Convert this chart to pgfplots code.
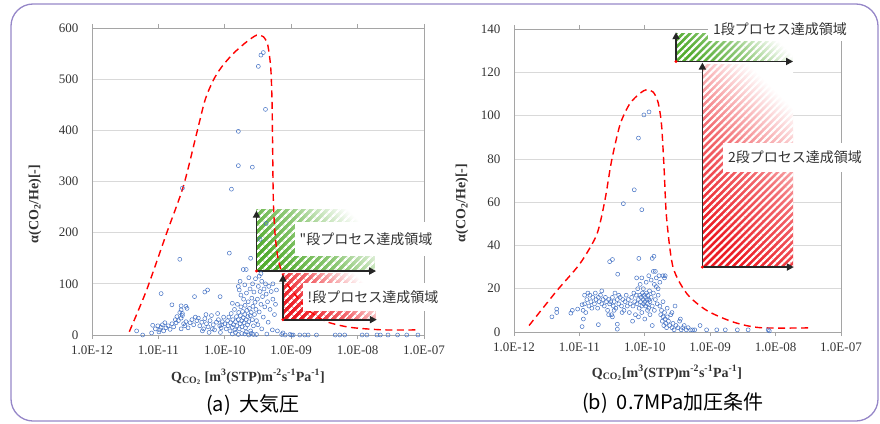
\documentclass[border=0pt]{standalone}
\usepackage{fontspec}
\setmainfont{Liberation Serif}
\newfontfamily\jp{Noto Sans CJK JP}
\usepackage{pgfplots}
\pgfplotsset{compat=1.18}
\usetikzlibrary{arrows.meta,patterns.meta}

\definecolor{ptblue}{RGB}{68,114,196}
\definecolor{hgreen}{RGB}{84,172,48}
\definecolor{hred}{RGB}{236,28,36}
\definecolor{framec}{RGB}{150,135,200}
\definecolor{axgray}{RGB}{165,165,165}

\pgfplotsset{
  panel/.style={
    scale only axis, anchor=south west, clip=false,
    xmin=1e-12, xmax=1e-7,
    xtick={1e-12,1e-11,1e-10,1e-9,1e-8,1e-7},
    xticklabels={\textrm{1.0E-12},\textrm{1.0E-11},\textrm{1.0E-10},\textrm{1.0E-09},\textrm{1.0E-08},\textrm{1.0E-07}},
    xminorticks=false,
    ymajorgrids, grid style={draw=gray!30, line width=0.7bp},
    axis line style={draw=axgray, line width=0.8bp},
    tick align=outside, major tick length=4bp,
    xtick style={draw=axgray, line width=0.8bp},
    ytick style={draw=none},
    ticklabel style={font=\fontsize{13bp}{15bp}\selectfont, text=black!80},
    yticklabel style={xshift=-6bp},
    xticklabel style={yshift=-3bp},
  },
  pts/.style={only marks, mark=o, mark size=2bp, ptblue, mark options={line width=0.5bp}},
  env/.style={no marks, smooth, tension=0.45, red, line width=1.4bp, dash pattern=on 7bp off 4.5bp},
}
\tikzset{arrw/.style={-{Triangle[length=7bp,width=7bp]}, line width=1.8bp, black!85}}

% hatched, fading region: colour, stripe distance, x1, y1, x2, y2
\newcommand\hatch[6]{%
  \shade[top color=white, bottom color=#1, middle color=#1!65!white, shading angle=-45]
    (axis cs:#3,#4) rectangle (axis cs:#5,#6);
  \fill[pattern={Lines[angle=45,distance=#2,line width=0.42*#2]}, pattern color=white]
    (axis cs:#3,#4) rectangle (axis cs:#5,#6);
}

\begin{document}
\begin{tikzpicture}[x=1bp,y=1bp]
\useasboundingbox (0,0) rectangle (880,423);
\draw[framec, line width=1.3bp, rounded corners=22bp] (11,2) rectangle (878,419);

% ---------------- (a) 大気圧 ----------------
\begin{axis}[xmode=log, panel, at={(92bp,88bp)}, width=332bp, height=307bp,
  ymin=0, ymax=600, ytick={0,100,200,300,400,500,600},
  yticklabels={\textrm{0},\textrm{100},\textrm{200},\textrm{300},\textrm{400},\textrm{500},\textrm{600}}]
\hatch{hgreen}{6bp}{3e-10}{125}{1.8e-8}{245}
\hatch{hred}{6bp}{7.5e-10}{30}{1.85e-8}{120}
\addplot[pts] coordinates {
(3.8e-10,552)(3.5e-10,547)(3.2e-10,525)(4.1e-10,441)(1.6e-10,398)(1.6e-10,331)
(2.6e-10,328)(2.3e-11,287)(1.26e-10,285)(2.1e-11,148)(1.17e-10,160)(2.45e-10,150)
(4.2e-10,218)(3.4e-10,187)(1.1e-11,81)(1.9e-10,128)(2.1e-10,128)(1.6e-11,59)
(3.5e-11,75)(5.0e-11,84)(5.5e-11,88)(8.5e-11,75)(2.2e-11,57)(2.6e-11,56)
(2.2e-11,49)(2.3e-11,42)
(4.7e-12,8)(5.8e-12,0)(7.9e-12,4)(2.7e-10,1)(3.0e-10,1)(4.3e-10,2)(7.2e-10,1)
(7.5e-10,4)(8.1e-10,0)(9.6e-10,1)(1.02e-9,0)(1.07e-9,0)(1.35e-9,0)(1.6e-9,0)
(1.8e-9,0)(2.4e-9,0)(4.6e-9,0)(5.4e-9,0)(6.4e-9,0)(1.17e-8,0)(1.38e-8,0)
(1.96e-8,0)(2.2e-8,0)(2.87e-8,0)(4.0e-8,0)(5.5e-8,0)(8.1e-8,0)
(9.0e-12,12)(9.8e-12,18)(1.05e-11,10)(1.1e-11,15)(1.15e-11,20)(1.2e-11,8)
(1.3e-11,14)(1.4e-11,18)(1.5e-11,11)(1.6e-11,22)(1.7e-11,16)(8.2e-12,19)
(1.25e-11,24)(1.02e-11,6)
(1.8e-11,30)(1.9e-11,36)(2.0e-11,28)(2.1e-11,44)(2.2e-11,33)(2.3e-11,38)
(2.4e-11,22)(2.5e-11,18)(2.6e-11,26)(2.8e-11,14)(3.0e-11,24)(3.2e-11,30)
(3.4e-11,20)(2.7e-11,52)(1.85e-11,24)(2.2e-11,12)(3.6e-11,35)(3.8e-11,28)
(4.0e-11,33)(4.2e-11,18)
(4.5e-11,25)(4.8e-11,12)(5.0e-11,32)(5.3e-11,22)(5.6e-11,16)(6.0e-11,28)
(6.3e-11,38)(6.7e-11,20)(7.0e-11,10)(7.5e-11,25)(8.0e-11,30)(8.4e-11,18)
(8.8e-11,14)(9.2e-11,26)(9.6e-11,35)(1.0e-10,22)(4.6e-11,8)(5.8e-11,5)
(6.5e-11,12)(7.8e-11,42)(8.6e-11,5)(9.0e-11,20)(5.2e-11,40)
(1.05e-10,12)(1.1e-10,28)(1.12e-10,18)(1.15e-10,35)(1.2e-10,8)(1.22e-10,24)
(1.25e-10,42)(1.3e-10,15)(1.32e-10,30)(1.35e-10,20)(1.4e-10,50)(1.42e-10,10)
(1.45e-10,26)(1.5e-10,36)(1.52e-10,18)(1.55e-10,60)(1.6e-10,30)(1.62e-10,44)
(1.65e-10,12)(1.7e-10,22)(1.72e-10,38)(1.75e-10,55)(1.8e-10,28)(1.82e-10,16)
(1.85e-10,46)(1.9e-10,34)(1.92e-10,70)(1.95e-10,24)(2.0e-10,40)(2.02e-10,58)
(2.05e-10,14)(2.1e-10,30)(2.12e-10,82)(2.15e-10,48)(2.2e-10,20)(2.22e-10,36)
(2.25e-10,65)(2.3e-10,26)(2.35e-10,52)(2.4e-10,90)(2.42e-10,38)(2.45e-10,8)
(2.5e-10,44)(2.55e-10,72)(2.6e-10,30)(2.62e-10,100)(2.65e-10,56)(2.7e-10,18)
(2.75e-10,84)(2.8e-10,40)(2.85e-10,64)(2.9e-10,110)(2.95e-10,50)(3.0e-10,28)
(1.6e-10,95)(1.7e-10,105)(1.75e-10,78)(1.65e-10,88)(2.0e-10,98)(2.3e-10,112)
(1.3e-10,62)(1.45e-10,5)(1.8e-10,3)(2.1e-10,6)
(1.3e-10,2)(1.6e-10,1)(2.0e-10,2)(2.3e-10,0)(2.5e-10,3)
(3.1e-10,70)(3.2e-10,95)(3.3e-10,45)(3.4e-10,85)(3.5e-10,60)(3.6e-10,105)
(3.7e-10,75)(3.8e-10,35)(3.9e-10,90)(4.0e-10,55)(4.2e-10,80)(4.4e-10,65)
(4.6e-10,95)(4.8e-10,50)(5.0e-10,85)(5.3e-10,70)(5.6e-10,40)(3.3e-10,115)
(3.5e-10,120)(4.1e-10,100)(3.15e-10,20)(3.6e-10,12)(4.5e-10,25)(5.2e-10,10)
(5.8e-10,60)(6.2e-10,8)(5.3e-10,100)(6.0e-10,88)
};
\addplot[env] coordinates {
(3.65e-12,6.5)(6.65e-12,88)(1.33e-11,199)(2.37e-11,290)(3.77e-11,394)
(5.04e-11,459)(6.72e-11,498)(8.98e-11,524)(1.34e-10,550)(2.13e-10,573)
(3.02e-10,586)(3.8e-10,583)(4.43e-10,567)(4.91e-10,524)(5.14e-10,459)
(5.26e-10,362)(5.38e-10,264)(5.7e-10,199)(6.4e-10,147)(8.07e-10,107)
(1.21e-9,75)(1.92e-9,46)(3.42e-9,26)(7.7e-9,15)(2.44e-8,10)(8.2e-8,10)
};
\draw[arrw] (axis cs:3e-10,125) -- (axis cs:3e-10,243);
\draw[arrw] (axis cs:3e-10,125) -- (axis cs:1.9e-8,125);
\draw[arrw] (axis cs:7.5e-10,30) -- (axis cs:7.5e-10,118);
\draw[arrw] (axis cs:7.5e-10,30) -- (axis cs:1.95e-8,30);
\fill[red] (axis cs:3e-10,125) circle (1.6bp);
\fill[red] (axis cs:7.5e-10,30) circle (1.6bp);
\end{axis}

% ---------------- (b) 0.7MPa加圧条件 ----------------
\begin{axis}[xmode=log, panel, at={(514bp,91bp)}, width=327bp, height=303bp,
  ymin=0, ymax=140, ytick={0,20,40,60,80,100,120,140},
  yticklabels={\textrm{0},\textrm{20},\textrm{40},\textrm{60},\textrm{80},\textrm{100},\textrm{120},\textrm{140}}]
\hatch{hgreen}{5bp}{3e-10}{125}{1.8e-8}{138}
\hatch{hred}{5bp}{7.6e-10}{30}{1.85e-8}{123.5}
\addplot[pts] coordinates {
(9.7e-11,100.3)(1.16e-10,101.7)(8.0e-11,89.6)(6.9e-11,65.7)(4.7e-11,59.3)
(9.0e-11,56.5)(2.9e-11,32.5)(3.2e-11,33.5)(3.85e-11,26.7)(8.1e-11,34)
(1.3e-10,34)(1.38e-10,35)(1.9e-10,26)(3.8e-12,7)(4.5e-12,10.6)(4.5e-12,9)
(7.4e-12,8.7)(7.8e-12,10)(9.4e-12,10.6)(1.1e-11,2.5)(1.95e-11,3.4)(3.8e-11,3.6)
(3.8e-11,1.3)(2.9e-10,12)(1.1e-11,12.6)(1.14e-11,10)(1.2e-11,17)
(1.2e-11,13)(1.25e-11,9)(1.3e-11,15)(1.4e-11,12)(1.45e-11,17)(1.5e-11,14)
(1.6e-11,16)(1.7e-11,13)(1.75e-11,18)(1.8e-11,15)(1.9e-11,11)(1.95e-11,16)
(2.0e-11,14)(2.1e-11,17)(2.2e-11,13)(2.3e-11,15)(2.4e-11,12)(2.5e-11,16)
(2.6e-11,14)(2.7e-11,10)(2.8e-11,15)(2.9e-11,13)(3.0e-11,14)(3.1e-11,8)
(3.2e-11,16)(3.3e-11,12)(3.4e-11,14)(3.5e-11,18)(3.6e-11,11)(3.8e-11,15)
(4.0e-11,13)(4.2e-11,16)(4.4e-11,12)(4.6e-11,15)(4.8e-11,10)(5.0e-11,14)
(5.2e-11,17)(5.4e-11,12)(5.6e-11,15)(5.8e-11,9)(6.0e-11,13)(1.35e-11,18)
(2.2e-11,19)(2.8e-11,8)(3.2e-11,7)(3.4e-11,10)(4.0e-11,17)(4.5e-11,9)
(1.15e-11,6)(1.55e-11,11)
(6.3e-11,16)(6.6e-11,12)(6.8e-11,18)(7.0e-11,14)(7.2e-11,8)(7.4e-11,17)
(7.6e-11,13)(7.8e-11,20)(8.0e-11,15)(8.2e-11,11)(8.4e-11,17)(8.6e-11,14)
(8.8e-11,16)(9.0e-11,12)(9.2e-11,18)(9.4e-11,15)(9.6e-11,13)(9.8e-11,17)
(1.0e-10,14)(1.02e-10,16)(1.04e-10,12)(1.06e-10,18)(1.08e-10,15)(1.1e-10,13)
(1.12e-10,17)(1.14e-10,11)(1.16e-10,15)(1.18e-10,19)(1.2e-10,14)(1.25e-10,16)
(1.3e-10,12)(1.35e-10,18)(1.4e-10,10)(1.45e-10,15)(1.5e-10,21)(1.55e-10,13)
(1.6e-10,17)(8.5e-11,22)(9.0e-11,25)(9.5e-11,20)(1.05e-10,23)(1.15e-10,26)
(1.25e-10,24)(1.35e-10,28)(1.4e-10,22)(1.5e-10,25)(1.6e-10,20)(1.65e-10,26)
(1.7e-10,23)(8.0e-11,7)(9.0e-11,9)(1.0e-10,6)(1.1e-10,10)(1.2e-10,8)
(1.3e-10,3)(7.5e-11,25)(6.5e-11,5)(2.0e-10,25)(2.05e-10,26)(1.45e-10,28)
(1.7e-10,12)(1.75e-10,8)(1.8e-10,10)(1.85e-10,5)(1.9e-10,7)(1.95e-10,3)
(2.0e-10,9)(2.05e-10,6)(2.1e-10,4)(2.15e-10,2)(2.2e-10,7)(2.3e-10,5)
(2.4e-10,3)(2.5e-10,8)(2.6e-10,2)(2.7e-10,4)(2.8e-10,1)(3.0e-10,3)
(3.2e-10,2)(3.4e-10,5)(3.6e-10,1)(3.8e-10,2)(4.0e-10,3)(4.3e-10,1)
(4.6e-10,2)(5.0e-10,1)(5.4e-10,1)(5.8e-10,1)(1.9e-10,14)(2.2e-10,11)
(2.6e-10,9)(3.5e-10,6)(7.0e-10,3)
(8.8e-10,1)(1.26e-9,1)(1.7e-9,1)(2.6e-9,1)(3.8e-9,1)(7.7e-9,1)(8.0e-9,0.5)
};
\addplot[env] coordinates {
(1.7e-12,3)(4.5e-12,19)(1.02e-11,31.6)(1.84e-11,45)(2.46e-11,61)(3.1e-11,79)
(4.2e-11,96)(5.9e-11,105.5)(8.45e-11,110.3)(1.07e-10,112)(1.35e-10,110.8)
(1.6e-10,106)(1.8e-10,96)(1.97e-10,76)(2.15e-10,53)(2.7e-10,30)(4.4e-10,17.7)
(8.8e-10,10)(2.25e-9,4.6)(5.8e-9,2)(3.4e-8,1.9)
};
\draw[arrw] (axis cs:3e-10,125) -- (axis cs:3e-10,138.5);
\draw[arrw] (axis cs:3e-10,125) -- (axis cs:1.85e-8,125);
\draw[arrw] (axis cs:7.6e-10,30) -- (axis cs:7.6e-10,124.5);
\draw[arrw] (axis cs:7.6e-10,30) -- (axis cs:1.9e-8,30);
\fill[red] (axis cs:3e-10,125) circle (1.6bp);
\fill[red] (axis cs:7.6e-10,30) circle (1.6bp);
\end{axis}

% region labels (white boxes over the frame)
\begin{scope}[every node/.style={fill=white, inner xsep=5bp, text=black!80,
    font=\jp\fontsize{14bp}{16bp}\selectfont}]
\node[minimum height=34bp] at (366,184) {"段プロセス達成領域};
\node[minimum height=28bp] at (373,126) {!段プロセス達成領域};
\node[minimum height=24bp] at (780,394) {1段プロセス達成領域};
\node[minimum height=29bp] at (795,266) {2段プロセス達成領域};
\end{scope}

% axis titles
\begin{scope}[every node/.style={font=\bfseries\fontsize{14bp}{16bp}\selectfont, text=black!80}]
\node[rotate=90] at (35,219) {α(CO\textsubscript{2}/He)[-]};
\node[rotate=90] at (462,220) {α(CO\textsubscript{2}/He)[-]};
\node at (248,46) {Q\textsubscript{CO\textsubscript{2}} [m\textsuperscript{3}(STP)m\textsuperscript{-2}s\textsuperscript{-1}Pa\textsuperscript{-1}]};
\node at (667,50) {Q\textsubscript{CO\textsubscript{2}}[m\textsuperscript{3}(STP)m\textsuperscript{-2}s\textsuperscript{-1}Pa\textsuperscript{-1}]};
\end{scope}

\node[font=\jp\fontsize{20bp}{22bp}\selectfont] at (253,18) {(a)\ \ 大気圧};
\node[font=\jp\fontsize{20bp}{22bp}\selectfont] at (673,20) {(b)\ \ 0.7MPa加圧条件};
\end{tikzpicture}
\end{document}
